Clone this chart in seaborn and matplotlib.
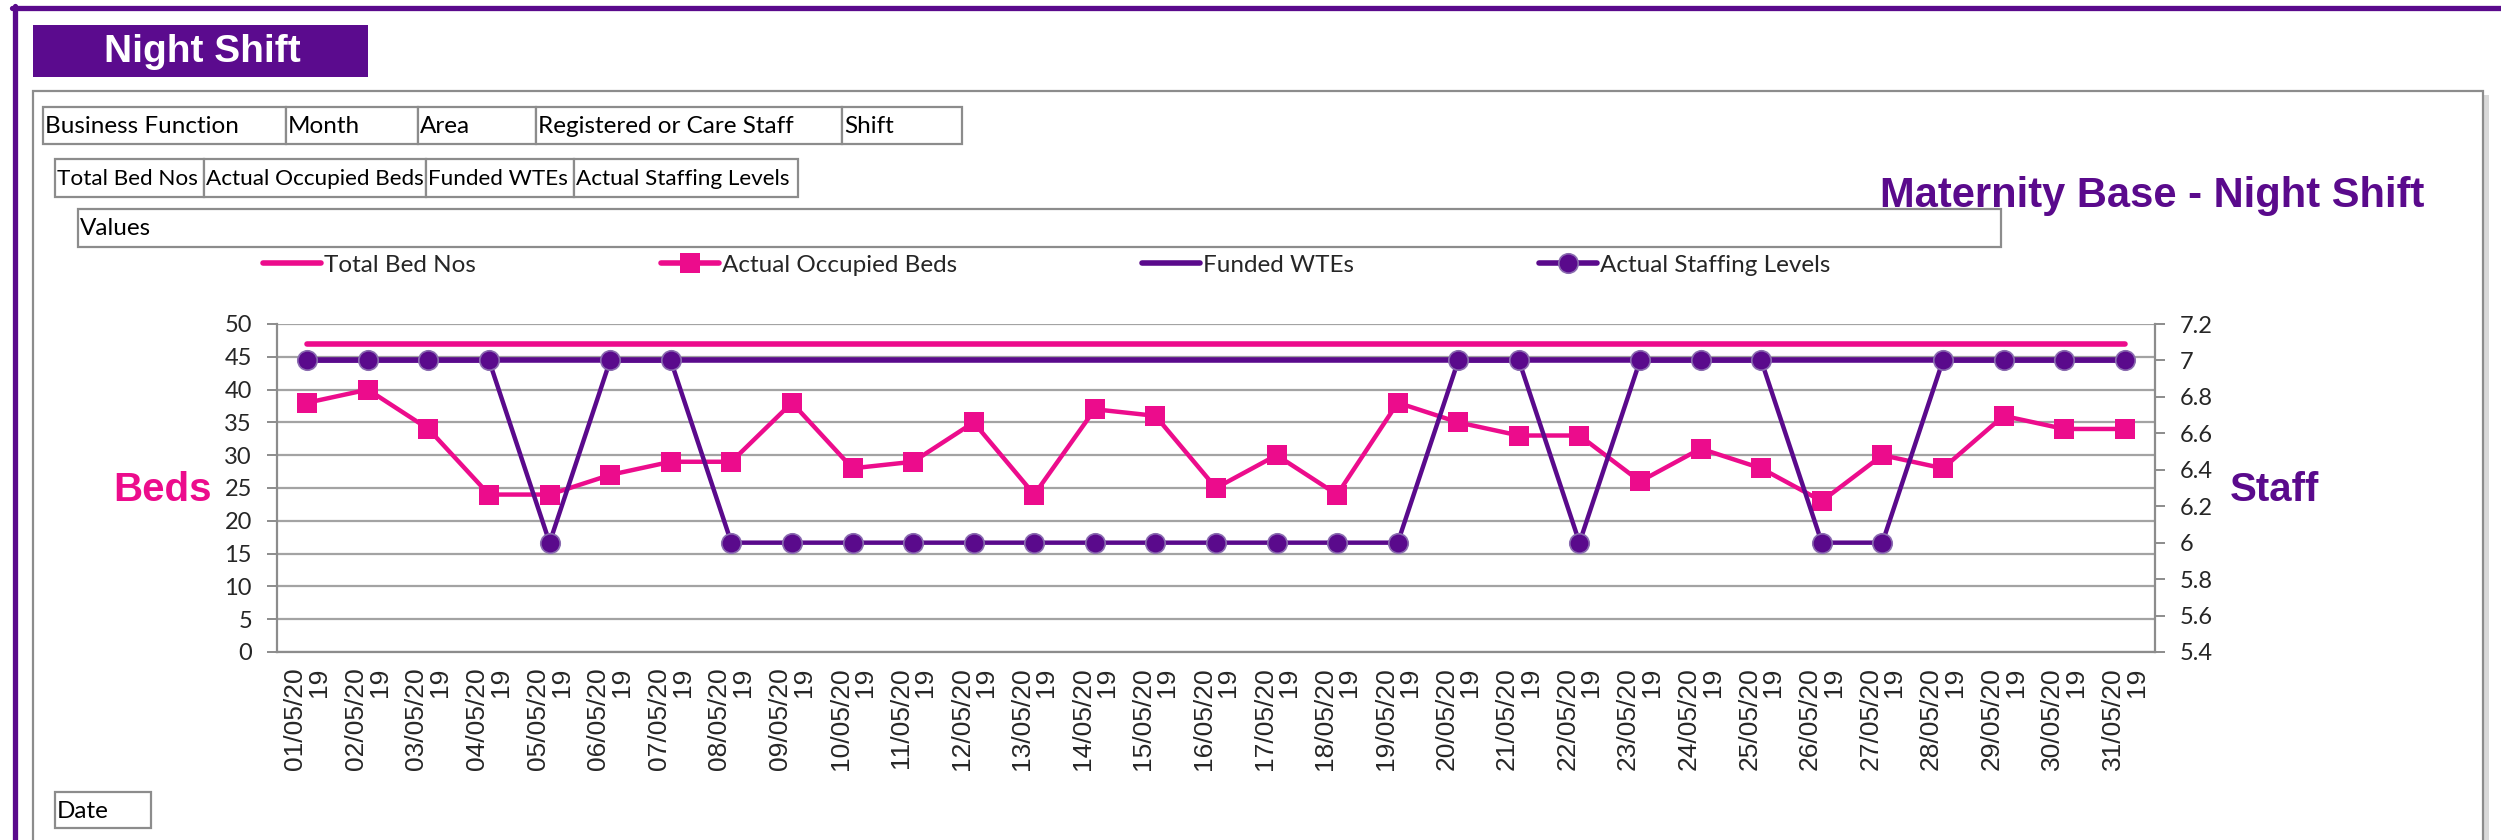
import numpy as np
import pandas as pd
import matplotlib
matplotlib.use('Agg')
import matplotlib.pyplot as plt
import seaborn as sns
from matplotlib.lines import Line2D
from matplotlib.patches import Rectangle

# data (May 2019, night shift)
dates = [f'{d:02d}/05/2019' for d in range(1, 32)]
total_beds = [47] * 31
occupied_beds = [38, 40, 34, 24, 24, 27, 29, 29, 38, 28, 29, 35, 24, 37, 36, 25,
                 30, 24, 38, 35, 33, 33, 26, 31, 28, 23, 30, 28, 36, 34, 34]
funded_wte = [7] * 31
actual_staff = [7, 7, 7, 7, 6, 7, 7, 6, 6, 6, 6, 6, 6, 6, 6, 6,
                6, 6, 6, 7, 7, 6, 7, 7, 7, 6, 6, 7, 7, 7, 7]
beds_ticks = [0, 5, 10, 15, 20, 25, 30, 35, 40, 45, 50]
staff_ticks = [5.4, 5.6, 5.8, 6.0, 6.2, 6.4, 6.6, 6.8, 7.0, 7.2]
series_names = ['Total Bed Nos', 'Actual Occupied Beds', 'Funded WTEs', 'Actual Staffing Levels']
filter_fields = ['Business Function', 'Month', 'Area', 'Registered or Care Staff', 'Shift']

PINK = '#EC0C8C'
PURPLE = '#5A0A8C'
GREY = '#8C8C8C'
GRID = '#A3A3A3'

sns.set_style('white')
plt.rcParams['font.family'] = ['Lato', 'DejaVu Sans']

W, H = 2501, 840
fig = plt.figure(figsize=(W / 100, H / 100), dpi=100)


def fx(x):
    return x / W


def fy(y):
    return 1 - y / H


def box(x0, x1, y0, y1, text=None, fs=17.5):
    fig.patches.append(Rectangle((fx(x0), fy(y1)), fx(x1 - x0), (y1 - y0) / H,
                                 transform=fig.transFigure, facecolor='white',
                                 edgecolor=GREY, lw=1.6, zorder=2))
    if text:
        fig.text(fx(x0 + 2), fy((y0 + y1) / 2 + 1), text, fontsize=fs, color='black',
                 ha='left', va='center', zorder=3)


# purple page frame
fig.add_artist(Line2D([fx(12), 1], [fy(8), fy(8)], color=PURPLE, lw=3.8, transform=fig.transFigure))
fig.add_artist(Line2D([fx(14.5), fx(14.5)], [fy(6), 0], color=PURPLE, lw=3.8, transform=fig.transFigure))

# banner
fig.patches.append(Rectangle((fx(33), fy(77)), fx(335), 52 / H, transform=fig.transFigure,
                             facecolor='#5B0B8E', edgecolor='none'))
fig.text(fx(202), fy(52), 'Night Shift', color='white', fontsize=28, fontweight='bold',
         family='Liberation Sans', ha='center', va='center')

# grey chart box with shadow
fig.patches.append(Rectangle((fx(38), fy(860)), fx(2451), 765 / H, transform=fig.transFigure,
                             facecolor='#D9D9D9', edgecolor='none', zorder=0))
fig.patches.append(Rectangle((fx(33), fy(860)), fx(2450), 769 / H, transform=fig.transFigure,
                             facecolor='white', edgecolor=GREY, lw=1.6, zorder=1))

# pivot field buttons
row1 = [43, 286, 418, 536, 842, 962]
for i, name in enumerate(filter_fields):
    box(row1[i], row1[i + 1], 107, 144, name)
row2 = [55, 204, 426, 574, 798]
for i, name in enumerate(series_names):
    box(row2[i], row2[i + 1], 159, 197, name, fs=16.2)
box(78, 2001, 209, 247, 'Values')
box(55, 151, 792, 828, 'Date')

fig.text(fx(2424), fy(207), 'Maternity Base - Night Shift', color=PURPLE, fontsize=30,
         fontweight='bold', family='Liberation Sans', ha='right', va='baseline')

# plot area
ax = fig.add_axes([fx(277), fy(652), fx(2155 - 277), (652 - 324) / H], zorder=4)
ax2 = ax.twinx()
ax.patch.set_alpha(0)

df = pd.DataFrame({'pos': np.arange(len(dates)), 'total': total_beds, 'occupied': occupied_beds,
                   'funded': funded_wte, 'staff': actual_staff})

sns.lineplot(data=df, x='pos', y='total', ax=ax, color=PINK, lw=4.0,
             solid_capstyle='round', legend=False)
sns.lineplot(data=df, x='pos', y='occupied', ax=ax, color=PINK, lw=3.2, marker='s',
             markersize=14, markeredgewidth=0, legend=False)
sns.lineplot(data=df, x='pos', y='funded', ax=ax2, color=PURPLE, lw=4.0,
             solid_capstyle='round', legend=False)
sns.lineplot(data=df, x='pos', y='staff', ax=ax2, color=PURPLE, lw=3.2, marker='o',
             markersize=14, markeredgecolor='#8A6BB0', markeredgewidth=1.2, legend=False)

ax.set_xlim(-0.5, len(dates) - 0.5)
ax.set_ylim(0, 50)
ax2.set_ylim(5.4, 7.2)
ax.set_xlabel('')
ax.set_ylabel('')
ax2.set_ylabel('')

ax.set_yticks(beds_ticks)
ax.set_yticklabels([str(v) for v in beds_ticks], fontsize=17)
ax2.set_yticks(staff_ticks)
ax2.set_yticklabels([f'{v:g}' for v in staff_ticks], fontsize=17)

ax.set_xticks(df['pos'])
ax.set_xticklabels([d[:8] + '\n' + d[8:] for d in dates], rotation=90, ha='center', va='top',
                   multialignment='right', linespacing=1.0, fontsize=19, family='Liberation Sans')
ax.set_xticks(np.arange(-0.5, len(dates), 1), minor=True)
ax.tick_params(axis='x', which='major', length=0, pad=11)
ax.tick_params(axis='x', which='minor', length=8, width=1.4, color=GREY, direction='out')
ax.tick_params(axis='y', length=7, width=1.4, color=GREY, direction='out', pad=11, left=True)
ax2.tick_params(axis='y', length=7, width=1.4, color=GREY, direction='out', pad=11, right=True)

ax.yaxis.grid(True, color=GRID, lw=1.6)
ax.xaxis.grid(False)
ax.set_axisbelow(True)
for s in ['top', 'right']:
    ax.spines[s].set_visible(False)
for s in ['left', 'bottom']:
    ax.spines[s].set_color(GREY)
    ax.spines[s].set_linewidth(1.6)
for s in ['top', 'left', 'bottom']:
    ax2.spines[s].set_visible(False)
ax2.spines['right'].set_color(GREY)
ax2.spines['right'].set_linewidth(1.6)

fig.text(fx(212), fy(490), 'Beds', color=PINK, fontsize=29, fontweight='bold',
         family='Liberation Sans', ha='right', va='center')
fig.text(fx(2230), fy(490), 'Staff', color=PURPLE, fontsize=29, fontweight='bold',
         family='Liberation Sans', ha='left', va='center')

handles = [
    Line2D([], [], color=PINK, lw=4.0, solid_capstyle='round'),
    Line2D([], [], color=PINK, lw=4.0, marker='s', markersize=14, markeredgewidth=0),
    Line2D([], [], color=PURPLE, lw=4.0, solid_capstyle='round'),
    Line2D([], [], color=PURPLE, lw=4.0, marker='o', markersize=14,
           markeredgecolor='#8A6BB0', markeredgewidth=1.2),
]
fig.legend(handles, series_names, loc='center left', bbox_to_anchor=(fx(263), fy(265)),
           ncol=4, frameon=False, fontsize=17.5, handlelength=2.4, handletextpad=0.12,
           columnspacing=7.6, borderpad=0, borderaxespad=0)

fig.savefig('out.png', dpi=100)
